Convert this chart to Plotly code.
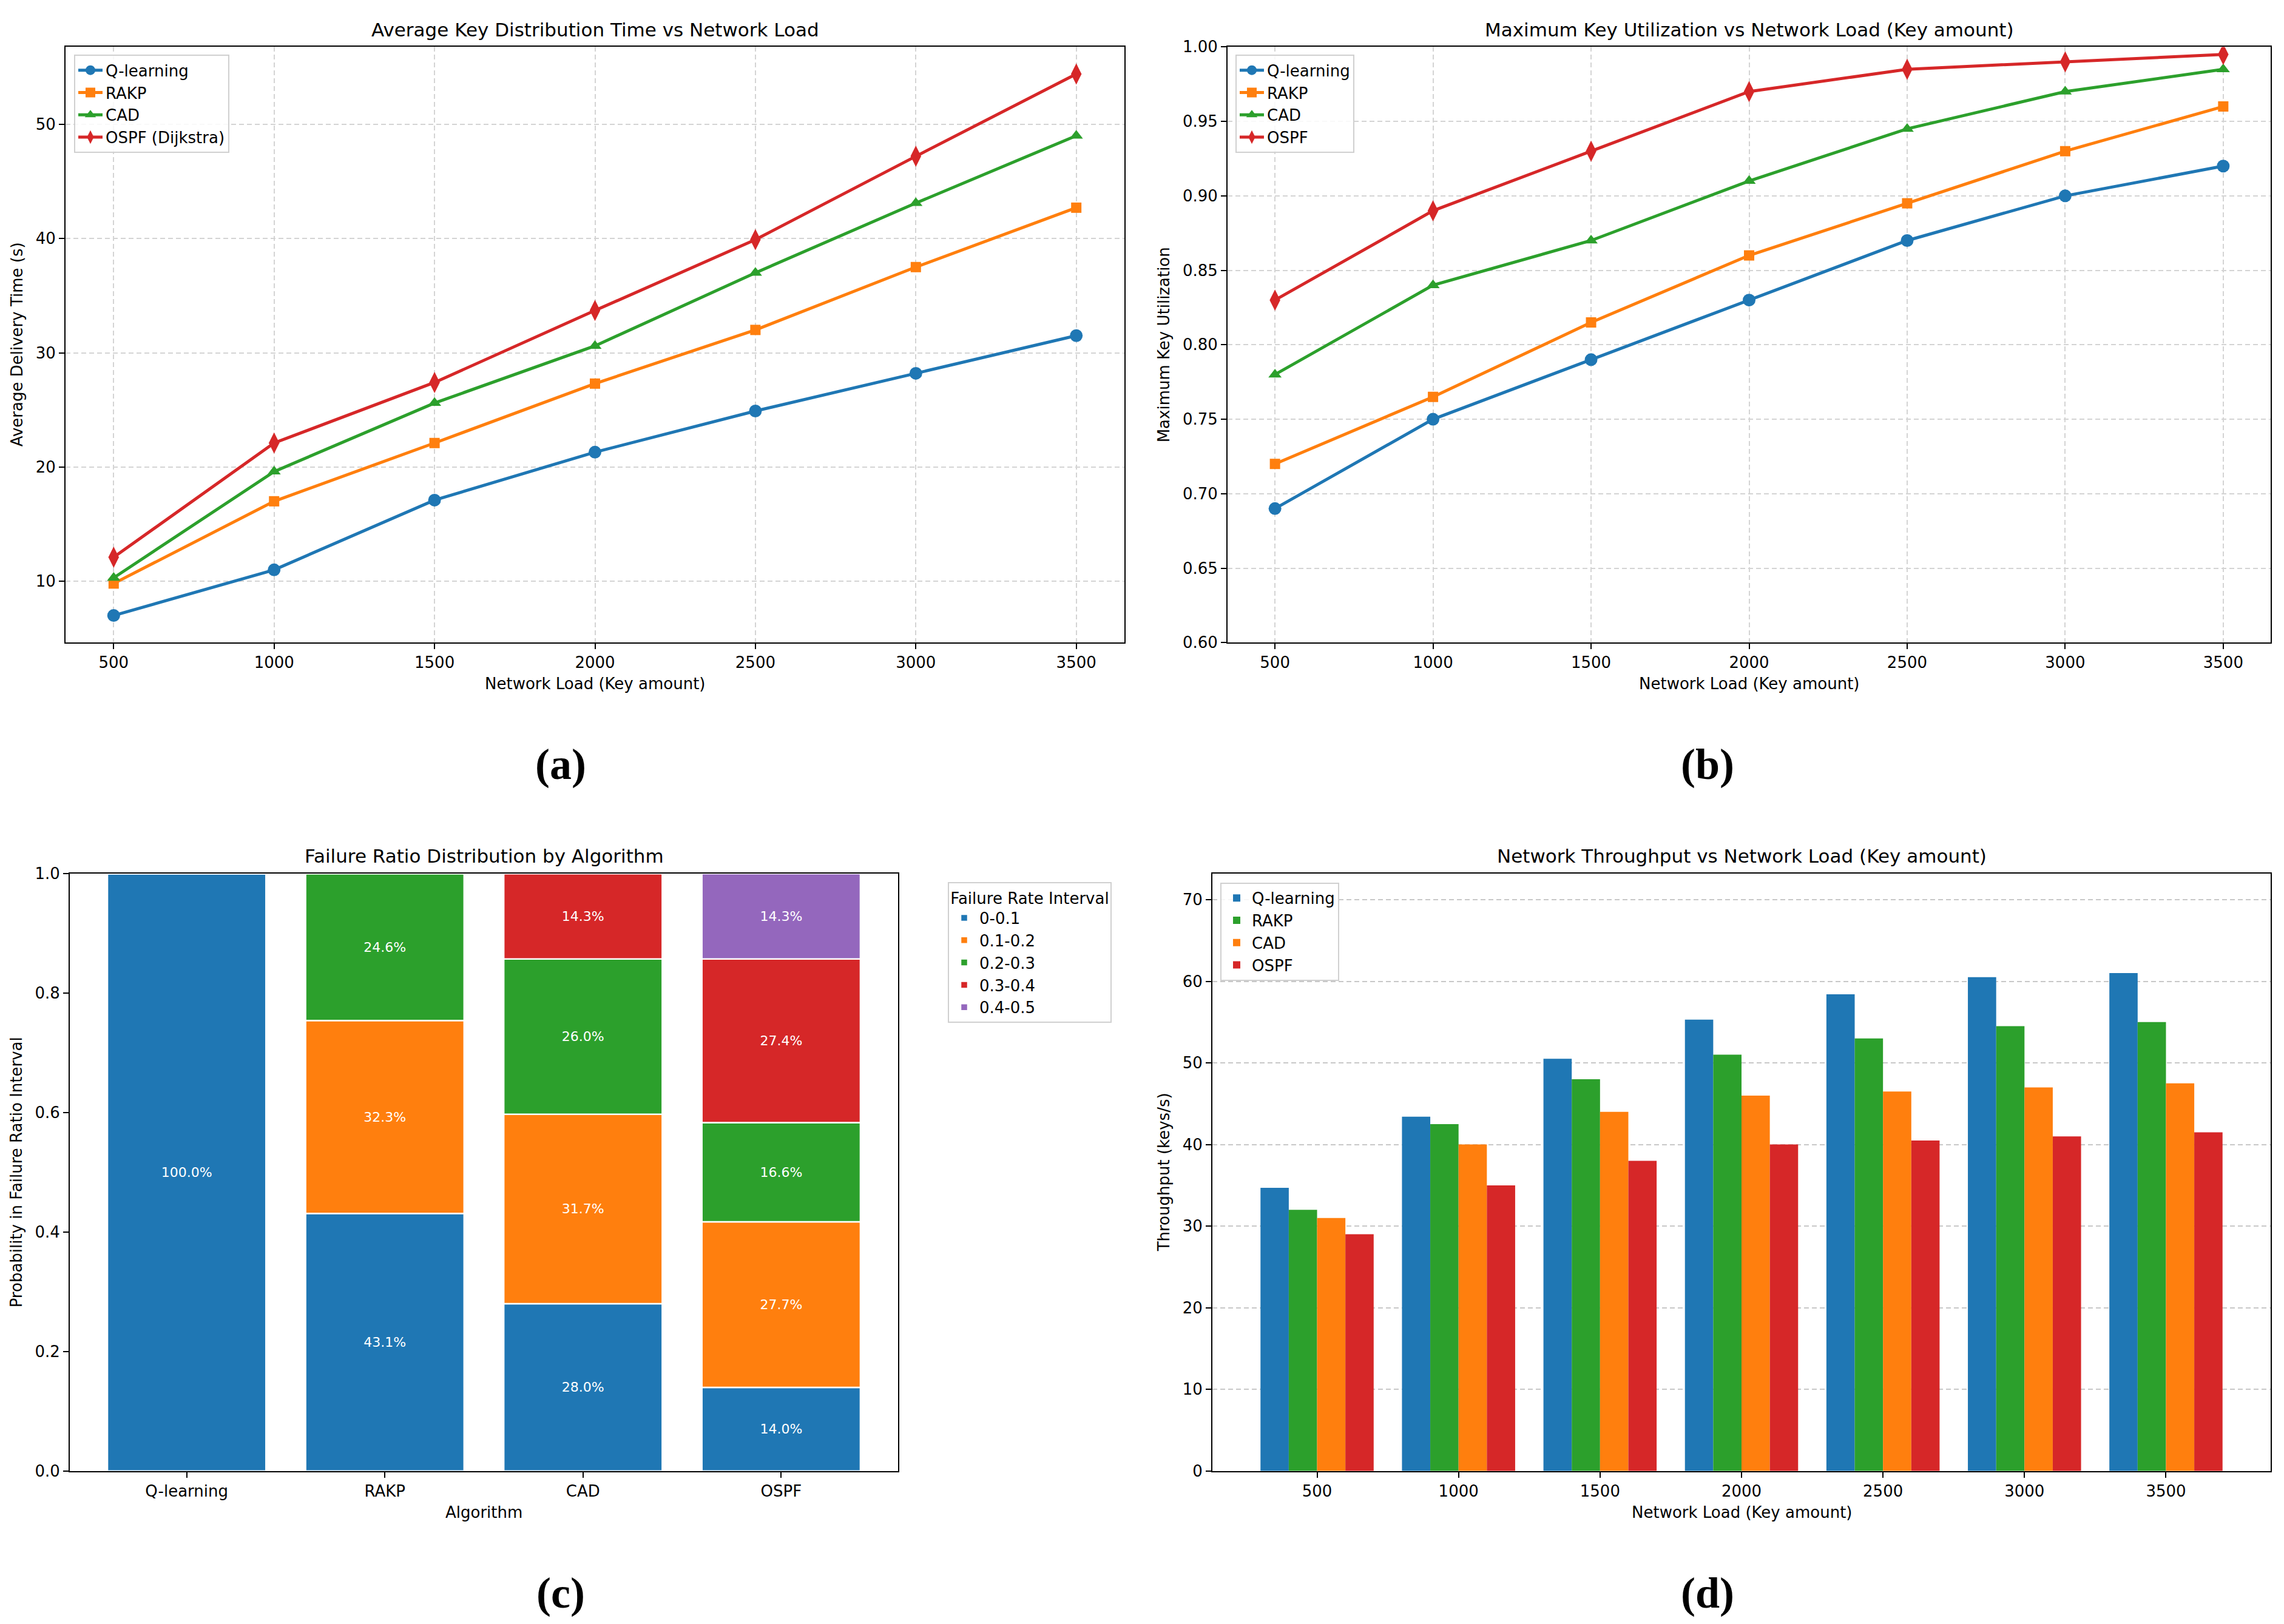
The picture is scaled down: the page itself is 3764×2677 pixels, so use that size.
import numpy as np
import plotly.graph_objects as go
from plotly.subplots import make_subplots

# data
loads = [500, 1000, 1500, 2000, 2500, 3000, 3500]
algorithms = ["Q-learning", "RAKP", "CAD", "OSPF"]

# (a) average key delivery time (s)
delay_qlearning = [7.0, 11.0, 17.1, 21.3, 24.9, 28.2, 31.5]
delay_rakp = [9.8, 17.0, 22.1, 27.3, 32.0, 37.5, 42.7]
delay_cad = [10.3, 19.6, 25.6, 30.6, 37.0, 43.1, 49.0]
delay_ospf = [12.1, 22.1, 27.4, 33.7, 39.9, 47.2, 54.4]

# (b) maximum key utilization
util_qlearning = [0.69, 0.75, 0.79, 0.83, 0.87, 0.90, 0.92]
util_rakp = [0.72, 0.765, 0.815, 0.86, 0.895, 0.93, 0.96]
util_cad = [0.78, 0.84, 0.87, 0.91, 0.945, 0.97, 0.985]
util_ospf = [0.83, 0.89, 0.93, 0.97, 0.985, 0.99, 0.995]

# (c) probability per failure-ratio interval, one list per algorithm
intervals = ["0-0.1", "0.1-0.2", "0.2-0.3", "0.3-0.4", "0.4-0.5"]
fail_qlearning = [1.000, 0.0, 0.0, 0.0, 0.0]
fail_rakp = [0.431, 0.323, 0.246, 0.0, 0.0]
fail_cad = [0.280, 0.317, 0.260, 0.143, 0.0]
fail_ospf = [0.140, 0.277, 0.166, 0.274, 0.143]

# (d) throughput (keys/s)
tput_qlearning = [34.7, 43.4, 50.5, 55.3, 58.4, 60.5, 61.0]
tput_rakp = [32.0, 42.5, 48.0, 51.0, 53.0, 54.5, 55.0]
tput_cad = [31.0, 40.0, 44.0, 46.0, 46.5, 47.0, 47.5]
tput_ospf = [29.0, 35.0, 38.0, 40.0, 40.5, 41.0, 41.5]

W, H = 3764, 2677
BLUE, ORANGE, GREEN, RED, PURPLE = "#1f77b4", "#ff7f0e", "#2ca02c", "#d62728", "#9467bd"
FONT = "DejaVu Sans"


def px(x):
    return x / W


def py(y):
    return 1 - y / H


# axes boxes in pixels: left, top, right, bottom
boxes = {
    "a": (100, 55, 1845, 1048),
    "b": (2015, 55, 3734, 1048),
    "c": (107, 1433, 1472, 2429),
    "d": (1990, 1433, 3734, 2429),
}

fig = make_subplots(rows=2, cols=2)

line_series = [
    ("Q-learning", BLUE, "circle", 21),
    ("RAKP", ORANGE, "square", 17),
    ("CAD", GREEN, "triangle-up", 19),
    ("OSPF", RED, "diamond-tall", 25),
]

for (name, color, symbol, size), ys in zip(line_series, [delay_qlearning, delay_rakp, delay_cad, delay_ospf]):
    fig.add_trace(
        go.Scatter(
            x=loads, y=ys, mode="lines+markers",
            name=name if name != "OSPF" else "OSPF (Dijkstra)",
            line=dict(color=color, width=5),
            marker=dict(symbol=symbol, size=size, color=color),
            legend="legend",
        ),
        row=1, col=1,
    )

for (name, color, symbol, size), ys in zip(line_series, [util_qlearning, util_rakp, util_cad, util_ospf]):
    fig.add_trace(
        go.Scatter(
            x=loads, y=ys, mode="lines+markers", name=name,
            line=dict(color=color, width=5),
            marker=dict(symbol=symbol, size=size, color=color),
            legend="legend2",
        ),
        row=1, col=2,
    )

# (c) stacked by hand so (d) can keep grouped bars
fail_table = np.array([fail_qlearning, fail_rakp, fail_cad, fail_ospf])
bases = np.cumsum(fail_table, axis=1) - fail_table
interval_colors = [BLUE, ORANGE, GREEN, RED, PURPLE]
for j, (label, color) in enumerate(zip(intervals, interval_colors)):
    vals = fail_table[:, j]
    fig.add_trace(
        go.Bar(
            x=algorithms, y=vals, base=bases[:, j], name=label,
            marker=dict(color=color, line=dict(color="white", width=2.5)),
            text=[f"{v * 100:.1f}%" if v > 0 else "" for v in vals],
            textposition="inside", insidetextanchor="middle", textangle=0,
            textfont=dict(color="white", size=22, family=FONT),
            offsetgroup="c", legend="legend3",
        ),
        row=2, col=1,
    )

load_labels = [str(v) for v in loads]
for name, color, ys in zip(algorithms, [BLUE, GREEN, ORANGE, RED],
                           [tput_qlearning, tput_rakp, tput_cad, tput_ospf]):
    fig.add_trace(
        go.Bar(x=load_labels, y=ys, name=name, marker=dict(color=color, line=dict(width=0)),
               legend="legend4"),
        row=2, col=2,
    )

axis_style = dict(
    showline=True, mirror=True, linecolor="black", linewidth=2,
    ticks="outside", ticklen=9, tickwidth=2, tickcolor="black",
    tickfont=dict(size=26, color="black", family=FONT), zeroline=False,
)
grid_on = dict(showgrid=True, gridcolor="#d4d4d4", gridwidth=2, griddash="8px,5px")
grid_off = dict(showgrid=False)

for key, xa, ya in [("a", "xaxis", "yaxis"), ("b", "xaxis2", "yaxis2"),
                    ("c", "xaxis3", "yaxis3"), ("d", "xaxis4", "yaxis4")]:
    l, t, r, b = boxes[key]
    fig.layout[xa].update(domain=[px(l), px(r)], **axis_style)
    fig.layout[ya].update(domain=[py(b), py(t)], **axis_style)

fig.update_layout(
    xaxis=dict(range=[350, 3650], tickvals=loads, **grid_on),
    yaxis=dict(range=[4.63, 56.77], tick0=10, dtick=10, **grid_on),
    xaxis2=dict(range=[350, 3650], tickvals=loads, **grid_on),
    yaxis2=dict(range=[0.6, 1.0], tick0=0.6, dtick=0.05, tickformat=".2f", **grid_on),
    xaxis3=dict(type="category", range=[-0.59, 3.59], **grid_off),
    yaxis3=dict(range=[0, 1.0], dtick=0.2, tickformat=".1f", **grid_off),
    xaxis4=dict(type="category", range=[-0.74, 6.74], **grid_off),
    yaxis4=dict(range=[0, 73.2], dtick=10, showgrid=True, gridcolor="#c8c8c8", gridwidth=2,
                griddash="8px,5px"),
)

legend_style = dict(
    xanchor="left", yanchor="top", bgcolor="rgba(255,255,255,0.85)",
    bordercolor="#d0d0d0", borderwidth=2, font=dict(size=26, color="black", family=FONT),
    itemwidth=40,
)
fig.update_layout(
    legend=dict(x=px(114), y=py(68), **legend_style),
    legend2=dict(x=px(2028), y=py(68), **legend_style),
    legend3=dict(x=px(1554), y=py(1447),
                 title=dict(text="Failure Rate Interval", side="top center",
                            font=dict(size=26, family=FONT)),
                 **legend_style),
    legend4=dict(x=px(2003), y=py(1448), **legend_style),
)

titles = {
    "a": "Average Key Distribution Time vs Network Load",
    "b": "Maximum Key Utilization vs Network Load (Key amount)",
    "c": "Failure Ratio Distribution by Algorithm",
    "d": "Network Throughput vs Network Load (Key amount)",
}
xtitles = {
    "a": "Network Load (Key amount)",
    "b": "Network Load (Key amount)",
    "c": "Algorithm",
    "d": "Network Load (Key amount)",
}
ytitles = {
    "a": ("Average Delivery Time (s)", 20),
    "b": ("Maximum Key Utilization", 1910),
    "c": ("Probability in Failure Ratio Interval", 19),
    "d": ("Throughput (keys/s)", 1910),
}
panel_tags = {"a": (916, 1251), "b": (2806, 1251), "c": (916, 2632), "d": (2806, 2632)}

annotations = []
for key, (l, t, r, b) in boxes.items():
    cx = (l + r) / 2
    annotations.append(dict(text=titles[key], x=px(cx), y=py(t - 29), xref="paper", yref="paper",
                            showarrow=False, xanchor="center", yanchor="middle",
                            font=dict(size=31, color="black", family=FONT)))
    annotations.append(dict(text=xtitles[key], x=px(cx), y=py(b + 69), xref="paper", yref="paper",
                            showarrow=False, xanchor="center", yanchor="middle",
                            font=dict(size=26, color="black", family=FONT)))
    ytext, yx = ytitles[key]
    annotations.append(dict(text=ytext, x=px(yx), y=py((t + b) / 2), xref="paper", yref="paper",
                            showarrow=False, textangle=-90, xanchor="center", yanchor="middle",
                            font=dict(size=26, color="black", family=FONT)))
    tx, ty = panel_tags[key]
    annotations.append(dict(text=f"({key})", x=px(tx), y=py(ty), xref="paper", yref="paper",
                            showarrow=False, xanchor="center", yanchor="middle",
                            font=dict(size=72, color="black", family="Liberation Serif", weight="bold")))

fig.update_layout(
    width=W, height=H,
    margin=dict(l=0, r=0, t=0, b=0),
    paper_bgcolor="white", plot_bgcolor="white",
    barmode="group", bargap=0.2, bargroupgap=0,
    font=dict(family=FONT, color="black"),
    annotations=annotations,
)

fig.write_html("out.html")
